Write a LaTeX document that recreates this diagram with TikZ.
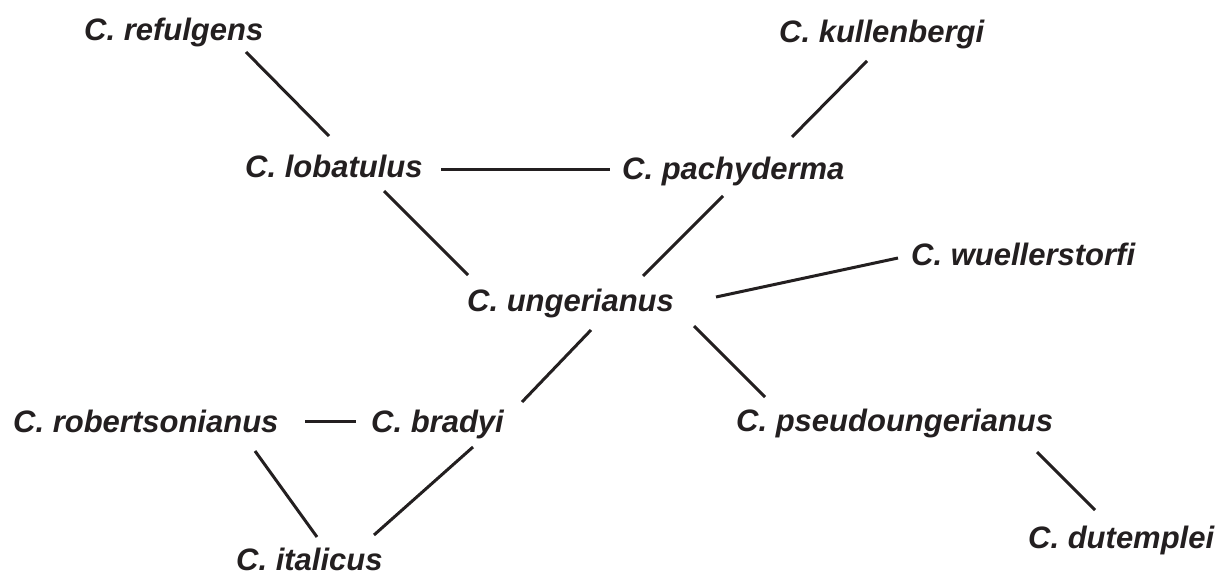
\documentclass[tikz,border=0pt]{standalone}
\usepackage{fontspec}
\setmainfont{Liberation Sans}
\usetikzlibrary{calc}
\definecolor{ink}{HTML}{231F20}
\begin{document}
\begin{tikzpicture}[x=1pt,y=-1pt,
  sp/.style={anchor=base west,inner sep=0pt,text=ink,font=\fontsize{31}{37}\selectfont\bfseries\itshape},
  link/.style={draw=ink,line width=3pt}]
\useasboundingbox (0,0) rectangle (1220,572);
\node[sp] (refulgens) at (84,41) {C. refulgens};
\node[sp] (kullenbergi) at (779,43) {C. kullenbergi};
\node[sp] (lobatulus) at (245,178) {C. lobatulus};
\node[sp] (pachyderma) at (622,180) {C. pachyderma};
\node[sp] (wuellerstorfi) at (911,265) {C. wuellerstorfi};
\node[sp] (ungerianus) at (467,311) {C. ungerianus};
\node[sp] (robertsonianus) at (13,432) {C. robertsonianus};
\node[sp] (bradyi) at (371,432) {C. bradyi};
\node[sp] (pseudo) at (736,431) {C. pseudoungerianus};
\node[sp] (italicus) at (236,570) {C. italicus};
\node[sp] (dutemplei) at (1028,548) {C. dutemplei};
\draw[link] ($(refulgens.base west)+(162,11)$) -- ($(lobatulus.base west)+(84,-42)$);
\draw[link] ($(kullenbergi.base west)+(88,18)$) -- ($(pachyderma.base west)+(170,-43)$);
\draw[link] ($(lobatulus.base west)+(196,-8)$) -- ($(pachyderma.base west)+(-12,-10)$);
\draw[link] ($(lobatulus.base west)+(139,13)$) -- ($(ungerianus.base west)+(1,-36)$);
\draw[link] ($(pachyderma.base west)+(101,16)$) -- ($(ungerianus.base west)+(176,-35)$);
\draw[link] ($(ungerianus.base west)+(249,-14)$) -- ($(wuellerstorfi.base west)+(-13,-7)$);
\draw[link] ($(ungerianus.base west)+(227,15)$) -- ($(pseudo.base west)+(29,-34)$);
\draw[link] ($(ungerianus.base west)+(124,19)$) -- ($(bradyi.base west)+(151,-30)$);
\draw[link] ($(robertsonianus.base west)+(292,-11)$) -- ($(bradyi.base west)+(-15,-11)$);
\draw[link] ($(robertsonianus.base west)+(242,19)$) -- ($(italicus.base west)+(81,-33)$);
\draw[link] ($(bradyi.base west)+(102,15)$) -- ($(italicus.base west)+(138,-35)$);
\draw[link] ($(pseudo.base west)+(301,21)$) -- ($(dutemplei.base west)+(67,-38)$);
\end{tikzpicture}
\end{document}
